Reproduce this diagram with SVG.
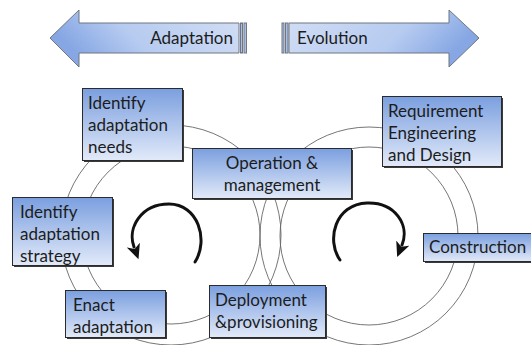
<svg xmlns="http://www.w3.org/2000/svg" width="531" height="345" viewBox="0 0 531 345">
  <defs>
    <linearGradient id="boxFill" x1="0" y1="0" x2="0" y2="1">
      <stop offset="0" stop-color="#7b9fdf"/>
      <stop offset="1" stop-color="#e2eaf9"/>
    </linearGradient>
    <linearGradient id="arrowLeftFill" x1="0" y1="0.3" x2="1" y2="0">
      <stop offset="0" stop-color="#86a7e4"/>
      <stop offset="0.35" stop-color="#b6cbf0"/>
      <stop offset="1" stop-color="#d3def5"/>
    </linearGradient>
    <linearGradient id="arrowRightFill" x1="0" y1="0" x2="1" y2="0.3">
      <stop offset="0" stop-color="#d3def5"/>
      <stop offset="0.65" stop-color="#b6cbf0"/>
      <stop offset="1" stop-color="#86a7e4"/>
    </linearGradient>
    <marker id="head" markerUnits="userSpaceOnUse" markerWidth="16" markerHeight="14" refX="2" refY="7" orient="auto">
      <path d="M0,0 L15,7 L0,14 L4,7 z" fill="#111"/>
    </marker>
    <style>
      .ring { fill: none; stroke: #666; stroke-width: 0.9; }
      .box { fill: url(#boxFill); stroke: #2b2b2b; stroke-width: 1; }
      .shadow { fill: #3a3a3a; }
      .lbl { font-family: "Lato", "Liberation Sans", sans-serif; font-size: 17px; fill: #1c1c1c; }
      .big { font-family: "Lato", "Liberation Sans", sans-serif; font-size: 17px; fill: #1c1c1c; }
      .band { stroke: #6f7680; stroke-width: 1; }
      .turn { fill: none; stroke: #111; stroke-width: 3; stroke-linecap: round; }
    </style>
  </defs>

  <rect width="531" height="345" fill="#ffffff"/>

  <!-- direction banners -->
  <g id="adaptation-arrow">
    <polygon class="band" fill="url(#arrowLeftFill)" points="50,38 79,10 79,23 239,23 239,53 79,53 79,67"/>
    <rect class="band" x="240.5" y="23" width="2" height="30" fill="#a9bfe8"/>
    <rect class="band" x="244" y="23" width="2.5" height="30" fill="#a9bfe8"/>
    <text class="big" x="233" y="44" text-anchor="end">Adaptation</text>
  </g>
  <g id="evolution-arrow">
    <rect class="band" x="282" y="23" width="2" height="30" fill="#a9bfe8"/>
    <rect class="band" x="285.5" y="23" width="2.5" height="30" fill="#a9bfe8"/>
    <polygon class="band" fill="url(#arrowRightFill)" points="289,23 449,23 449,10 479,38 449,67 449,53 289,53"/>
    <text class="big" x="297" y="44">Evolution</text>
  </g>

  <!-- the two life-cycle loops -->
  <g id="connectors">
    <circle class="ring" cx="171" cy="235" r="110"/>
    <circle class="ring" cx="171" cy="235" r="89"/>
    <circle class="ring" cx="369" cy="236" r="109"/>
    <circle class="ring" cx="369" cy="236" r="89"/>
    <path class="turn" d="M195,262 C209,240 198,204 169,204 C141,204 127,228 134,247" marker-end="url(#head)"/>
    <path class="turn" d="M340,260 C326,240 335,204 367,203 C395,202 410,225 402,245" marker-end="url(#head)"/>
  </g>

  <!-- stages -->
  <g id="identify-needs">
    <rect class="shadow" x="84" y="90" width="100" height="72"/>
    <rect class="box" x="82.5" y="88.5" width="100" height="72"/>
    <text class="lbl" x="88" y="109">Identify</text>
    <text class="lbl" x="88" y="131">adaptation</text>
    <text class="lbl" x="88" y="153">needs</text>
  </g>
  <g id="operation">
    <rect class="shadow" x="194" y="150" width="159" height="50"/>
    <rect class="box" x="192.5" y="148.5" width="159" height="50"/>
    <text class="lbl" x="272" y="169" text-anchor="middle">Operation &amp;</text>
    <text class="lbl" x="272" y="191" text-anchor="middle">management</text>
  </g>
  <g id="requirements">
    <rect class="shadow" x="384" y="98" width="119" height="70"/>
    <rect class="box" x="382.5" y="96.5" width="119" height="70"/>
    <text class="lbl" x="388" y="117">Requirement</text>
    <text class="lbl" x="388" y="139">Engineering</text>
    <text class="lbl" x="388" y="161">and Design</text>
  </g>
  <g id="identify-strategy">
    <rect class="shadow" x="14" y="199" width="100" height="68"/>
    <rect class="box" x="12.5" y="197.5" width="100" height="68"/>
    <text class="lbl" x="20" y="218">Identify</text>
    <text class="lbl" x="20" y="240">adaptation</text>
    <text class="lbl" x="20" y="262">strategy</text>
  </g>
  <g id="enact">
    <rect class="shadow" x="67" y="292" width="100" height="47"/>
    <rect class="box" x="65.5" y="290.5" width="100" height="47"/>
    <text class="lbl" x="73" y="311">Enact</text>
    <text class="lbl" x="73" y="333">adaptation</text>
  </g>
  <g id="deployment">
    <rect class="shadow" x="211" y="287" width="116" height="52"/>
    <rect class="box" x="209.5" y="285.5" width="116" height="52"/>
    <text class="lbl" x="215" y="306">Deployment</text>
    <text class="lbl" x="215" y="328">&amp;provisioning</text>
  </g>
  <g id="construction">
    <rect class="shadow" x="425" y="235" width="108" height="28"/>
    <rect class="box" x="423.5" y="233.5" width="108" height="28"/>
    <text class="lbl" x="429" y="253">Construction</text>
  </g>
</svg>
